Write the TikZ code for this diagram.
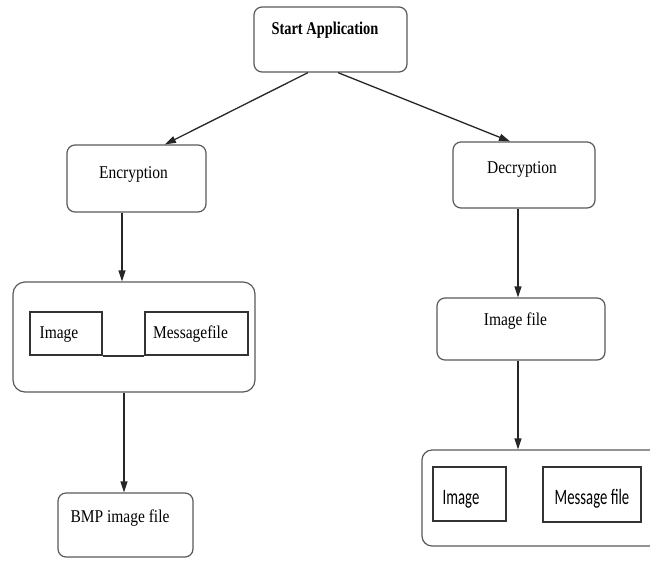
\documentclass[tikz,border=0pt]{standalone}
\usepackage{fontspec}
\setmainfont{Liberation Serif}
\setsansfont{Carlito}
\usetikzlibrary{arrows.meta}
\newcommand{\btxt}[1]{\scalebox{0.8}[1]{\fontsize{18}{20}\selectfont\bfseries #1}}
\newcommand{\stxt}[1]{\scalebox{0.86}[1]{\fontsize{18}{20}\selectfont #1}}
\newcommand{\ctxt}[1]{\scalebox{0.67}[1]{\sffamily\fontsize{22}{26}\selectfont #1}}

\begin{document}
\begin{tikzpicture}[x=1pt,y=-1pt]
\tikzstyle{every node}+=[inner sep=0pt]
\tikzstyle{rbox}=[draw=black!65, line width=1.2pt, rounded corners=8pt]
\tikzstyle{ibox}=[draw=black!80, line width=1.4pt]
\tikzstyle{conn}=[draw=black!85, line width=1.3pt, -{Triangle[length=11pt,width=7pt]}]
\useasboundingbox (0,0) rectangle (650,560);
\clip (0,0) rectangle (650,560);
\node [rbox, minimum width=153, minimum height=65] (start) at (330.5,39.5) {};
\node [anchor=base] (tstart) at (325,34) {\btxt{Start Application}};
\node [rbox, minimum width=139, minimum height=67] (enc) at (136.5,178.5) {};
\node [anchor=base] (tenc) at (133.5,178) {\stxt{Encryption}};
\node [rbox, minimum width=142, minimum height=66] (dec) at (524,175) {};
\node [anchor=base] (tdec) at (522,173) {\stxt{Decryption}};
\node [rbox, rounded corners=12pt, minimum width=242, minimum height=110] (lgroup) at (134,337) {};
\node [ibox, minimum width=72, minimum height=43] (img1) at (66,333.5) {};
\node [anchor=base] (timg1) at (59,338) {\stxt{Image}};
\node [ibox, minimum width=103, minimum height=43] (msg1) at (196.5,333.5) {};
\node [anchor=base] (tmsg1) at (190.5,338) {\stxt{Messagefile}};
\draw [black!80, line width=1.6pt] (img1.south east) -- (msg1.south west);
\node [rbox, minimum width=135, minimum height=64] (bmp) at (125.5,525) {};
\node [anchor=base] (tbmp) at (120,522) {\stxt{BMP image file}};
\node [rbox, minimum width=168, minimum height=62] (imgf) at (521,329) {};
\node [anchor=base] (timgf) at (515.5,325) {\stxt{Image file}};
\node [rbox, rounded corners=10pt, minimum width=258, minimum height=96] (rgroup) at (551,498) {};
\node [ibox, minimum width=73, minimum height=54] (img2) at (469.5,494) {};
\node [anchor=base] (timg2) at (461,504) {\ctxt{Image}};
\node [ibox, minimum width=98, minimum height=55] (msg2) at (592,494.5) {};
\node [anchor=base] (tmsg2) at (592,504) {\ctxt{Message file}};
\draw [conn] (308,0 |- start.south) -- (165,0 |- enc.north);
\draw [conn] (338,0 |- start.south) -- (510,0 |- dec.north);
\draw [conn] (122,0 |- enc.south) -- (122,0 |- lgroup.north);
\draw [conn] (124,0 |- lgroup.south) -- (124,0 |- bmp.north);
\draw [conn] (518,0 |- dec.south) -- (518,0 |- imgf.north);
\draw [conn] (518,0 |- imgf.south) -- (518,0 |- rgroup.north);
\end{tikzpicture}
\end{document}
